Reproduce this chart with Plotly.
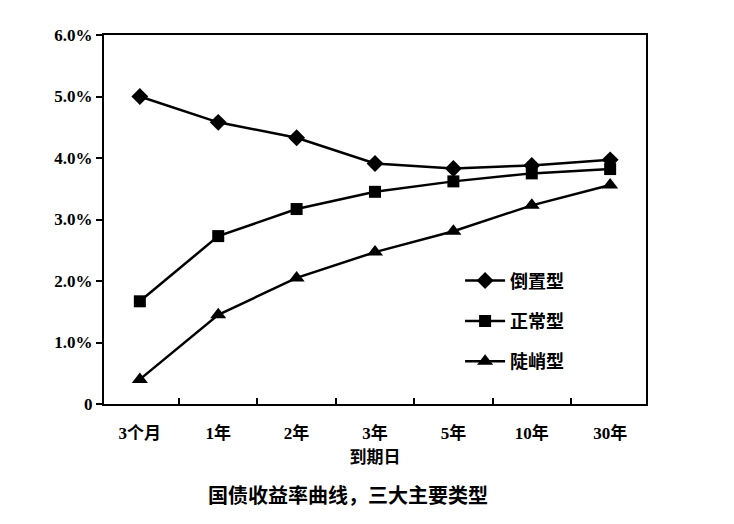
import plotly.graph_objects as go

categories = ["3个月", "1年", "2年", "3年", "5年", "10年", "30年"]
inverted = [5.00, 4.58, 4.33, 3.91, 3.83, 3.88, 3.97]
normal = [1.67, 2.73, 3.17, 3.45, 3.62, 3.75, 3.82]
steep = [0.40, 1.45, 2.05, 2.47, 2.81, 3.23, 3.56]
series_names = ["倒置型", "正常型", "陡峭型"]
y_tickvals = [0, 1, 2, 3, 4, 5, 6]
y_ticktext = ["0", "1.0%", "2.0%", "3.0%", "4.0%", "5.0%", "6.0%"]

FONT = "Liberation Serif, Noto Sans CJK SC, serif"
CJK = "Noto Sans CJK SC, sans-serif"
symbols = ["diamond", "square", "triangle-up"]
sizes = [13, 12, 14]

fig = go.Figure()
for i, (name, vals) in enumerate(zip(series_names, [inverted, normal, steep])):
    fig.add_trace(go.Scatter(
        x=categories, y=vals, name=f"<b>{name}</b>", mode="lines+markers",
        legendgroup=name,
        line=dict(color="black", width=2.5),
        marker=dict(symbol=symbols[i], size=sizes[i], color="black"),
    ))

fig.update_layout(
    width=726, height=516,
    margin=dict(l=96, r=88, t=27, b=120),
    paper_bgcolor="white", plot_bgcolor="white",
    font=dict(family=FONT, size=17, color="black"),
    showlegend=True,
    legend=dict(x=0.657, y=0.384, xanchor="left", yanchor="top",
                bgcolor="rgba(0,0,0,0)", tracegroupgap=14,
                font=dict(family=CJK, size=18, color="black"),
                itemwidth=40),
    xaxis=dict(
        type="category", showline=True, linecolor="black", linewidth=2,
        mirror=True, ticks="inside", ticklen=6, tickcolor="black", tickwidth=1.5,
        tickson="boundaries", showgrid=False, ticklabelstandoff=13,
        tickvals=categories, ticktext=[f"<b>{c}</b>" for c in categories],
        tickfont=dict(family=FONT, size=17, color="black"),
        title=dict(text="<b>到期日</b>", standoff=8,
                   font=dict(family=CJK, size=17)),
    ),
    yaxis=dict(
        range=[0, 6], tickvals=y_tickvals, ticktext=[f"<b>{t}</b>" for t in y_ticktext],
        showline=True, linecolor="black", linewidth=2, mirror=True,
        ticks="outside", ticklen=6, tickcolor="black", tickwidth=1.5,
        showgrid=False, zeroline=False,
        tickfont=dict(family=FONT, size=17, color="black"),
    ),
    annotations=[dict(
        text="<b>国债收益率曲线，三大主要类型</b>", xref="paper", yref="paper",
        x=0.45, y=-0.244, xanchor="center", yanchor="middle", showarrow=False,
        font=dict(family=CJK, size=20, color="black"),
    )],
)

fig.write_html("out.html")
